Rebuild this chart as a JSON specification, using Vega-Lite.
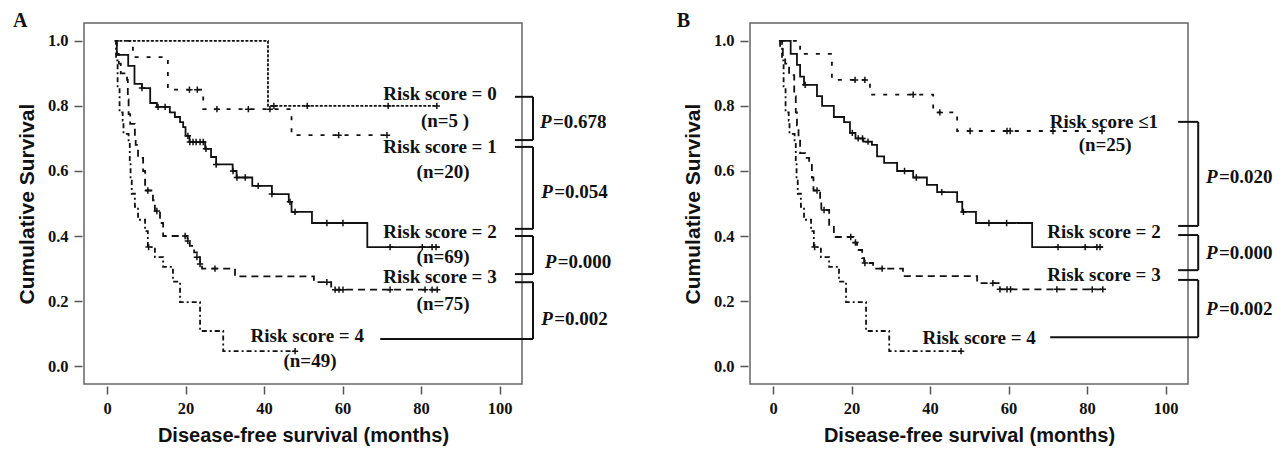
{
  "$schema": "https://vega.github.io/schema/vega-lite/v6.json",
  "background": "white",
  "padding": {"left": 12, "top": 10, "right": 5, "bottom": 5},
  "bounds": "flush",
  "spacing": 228,
  "config": {
    "view": {"stroke": "#666", "strokeWidth": 1.5},
    "axis": {
      "labelFont": "Liberation Serif", "labelFontWeight": "bold", "labelFontSize": 16.5, "labelColor": "#111",
      "titleFont": "Liberation Sans", "titleFontWeight": "bold", "titleColor": "#111",
      "tickColor": "#555", "tickWidth": 1.5, "grid": false, "domain": false
    },
    "text": {"font": "Liberation Serif", "fontWeight": "bold", "fontSize": 19, "color": "#111"}
  },
  "datasets": {
    "curvesA": [
      {"g": "0", "t": 2, "s": 1.0}, {"g": "0", "t": 41, "s": 0.8}, {"g": "0", "t": 84, "s": 0.8},
      {"g": "1", "t": 2, "s": 1.0}, {"g": "1", "t": 6.6, "s": 0.95}, {"g": "1", "t": 15.5, "s": 0.85}, {"g": "1", "t": 24.5, "s": 0.79}, {"g": "1", "t": 47, "s": 0.71}, {"g": "1", "t": 72, "s": 0.71},
      {"g": "2", "t": 2, "s": 1.0}, {"g": "2", "t": 2.5, "s": 0.957}, {"g": "2", "t": 5.4, "s": 0.923}, {"g": "2", "t": 7, "s": 0.868}, {"g": "2", "t": 8.9, "s": 0.855}, {"g": "2", "t": 11, "s": 0.809}, {"g": "2", "t": 12.7, "s": 0.797}, {"g": "2", "t": 16, "s": 0.78}, {"g": "2", "t": 17.3, "s": 0.766}, {"g": "2", "t": 18.6, "s": 0.75}, {"g": "2", "t": 19.4, "s": 0.735}, {"g": "2", "t": 20, "s": 0.708}, {"g": "2", "t": 21, "s": 0.689}, {"g": "2", "t": 25, "s": 0.668}, {"g": "2", "t": 26.5, "s": 0.643}, {"g": "2", "t": 27.8, "s": 0.62}, {"g": "2", "t": 32, "s": 0.6}, {"g": "2", "t": 33, "s": 0.58}, {"g": "2", "t": 37, "s": 0.554}, {"g": "2", "t": 42, "s": 0.529}, {"g": "2", "t": 46.3, "s": 0.505}, {"g": "2", "t": 47, "s": 0.474}, {"g": "2", "t": 52.2, "s": 0.44}, {"g": "2", "t": 66.3, "s": 0.366}, {"g": "2", "t": 84.8, "s": 0.366},
      {"g": "3", "t": 2, "s": 1.0}, {"g": "3", "t": 2.5, "s": 0.96}, {"g": "3", "t": 3, "s": 0.93}, {"g": "3", "t": 3.5, "s": 0.9}, {"g": "3", "t": 5.1, "s": 0.88}, {"g": "3", "t": 5.3, "s": 0.82}, {"g": "3", "t": 5.5, "s": 0.775}, {"g": "3", "t": 5.9, "s": 0.745}, {"g": "3", "t": 7.1, "s": 0.7}, {"g": "3", "t": 7.3, "s": 0.68}, {"g": "3", "t": 7.9, "s": 0.64}, {"g": "3", "t": 9.2, "s": 0.6}, {"g": "3", "t": 9.7, "s": 0.54}, {"g": "3", "t": 11.7, "s": 0.51}, {"g": "3", "t": 12.2, "s": 0.477}, {"g": "3", "t": 13.5, "s": 0.44}, {"g": "3", "t": 14.3, "s": 0.4}, {"g": "3", "t": 20.5, "s": 0.385}, {"g": "3", "t": 21.1, "s": 0.37}, {"g": "3", "t": 22.2, "s": 0.35}, {"g": "3", "t": 22.9, "s": 0.335}, {"g": "3", "t": 23.7, "s": 0.314}, {"g": "3", "t": 24.2, "s": 0.3}, {"g": "3", "t": 32.6, "s": 0.276}, {"g": "3", "t": 52.7, "s": 0.258}, {"g": "3", "t": 57.1, "s": 0.235}, {"g": "3", "t": 84.8, "s": 0.235},
      {"g": "4", "t": 2, "s": 1.0}, {"g": "4", "t": 2.3, "s": 0.94}, {"g": "4", "t": 2.7, "s": 0.86}, {"g": "4", "t": 3.2, "s": 0.78}, {"g": "4", "t": 4.0, "s": 0.755}, {"g": "4", "t": 4.2, "s": 0.714}, {"g": "4", "t": 5.5, "s": 0.69}, {"g": "4", "t": 5.8, "s": 0.63}, {"g": "4", "t": 6.0, "s": 0.57}, {"g": "4", "t": 6.3, "s": 0.53}, {"g": "4", "t": 7.1, "s": 0.49}, {"g": "4", "t": 7.9, "s": 0.45}, {"g": "4", "t": 9.7, "s": 0.415}, {"g": "4", "t": 10.4, "s": 0.366}, {"g": "4", "t": 12.2, "s": 0.335}, {"g": "4", "t": 14.3, "s": 0.305}, {"g": "4", "t": 16.8, "s": 0.26}, {"g": "4", "t": 18.6, "s": 0.197}, {"g": "4", "t": 23.7, "s": 0.108}, {"g": "4", "t": 29.6, "s": 0.046}, {"g": "4", "t": 47.9, "s": 0.046}
    ],
    "censA": [
      {"t": 42.5, "s": 0.8}, {"t": 51, "s": 0.8}, {"t": 71.6, "s": 0.8}, {"t": 84, "s": 0.8},
      {"t": 21, "s": 0.85}, {"t": 23, "s": 0.85}, {"t": 28, "s": 0.79}, {"t": 36, "s": 0.79}, {"t": 41.5, "s": 0.79}, {"t": 59, "s": 0.71}, {"t": 71.3, "s": 0.71},
      {"t": 8.9, "s": 0.855}, {"t": 13, "s": 0.797}, {"t": 14.8, "s": 0.797}, {"t": 20.6, "s": 0.708}, {"t": 21.1, "s": 0.689}, {"t": 21.9, "s": 0.689}, {"t": 22.7, "s": 0.689}, {"t": 23.7, "s": 0.689}, {"t": 24.5, "s": 0.689}, {"t": 25.2, "s": 0.668}, {"t": 27.8, "s": 0.62}, {"t": 32.1, "s": 0.6}, {"t": 33.1, "s": 0.58}, {"t": 35.2, "s": 0.58}, {"t": 38.5, "s": 0.554}, {"t": 42, "s": 0.529}, {"t": 46.6, "s": 0.505}, {"t": 47.9, "s": 0.474}, {"t": 56, "s": 0.44}, {"t": 60.1, "s": 0.44}, {"t": 72.1, "s": 0.366}, {"t": 80.3, "s": 0.366}, {"t": 82.8, "s": 0.366}, {"t": 83.8, "s": 0.366},
      {"t": 10.4, "s": 0.54}, {"t": 12.7, "s": 0.477}, {"t": 19.9, "s": 0.4}, {"t": 20.6, "s": 0.385}, {"t": 22.9, "s": 0.335}, {"t": 23.7, "s": 0.314}, {"t": 27.5, "s": 0.3}, {"t": 56, "s": 0.258}, {"t": 58.1, "s": 0.235}, {"t": 59.1, "s": 0.235}, {"t": 60.1, "s": 0.235}, {"t": 72.1, "s": 0.235}, {"t": 81, "s": 0.235}, {"t": 82.8, "s": 0.235}, {"t": 84.1, "s": 0.235},
      {"t": 10.6, "s": 0.366}, {"t": 47.9, "s": 0.046}
    ],
    "curvesB": [
      {"g": "1", "t": 2, "s": 1.0}, {"g": "1", "t": 6.9, "s": 0.96}, {"g": "1", "t": 15, "s": 0.88}, {"g": "1", "t": 24.7, "s": 0.835}, {"g": "1", "t": 40.8, "s": 0.78}, {"g": "1", "t": 46.9, "s": 0.723}, {"g": "1", "t": 84, "s": 0.723},
      {"g": "2", "t": 2, "s": 1.0}, {"g": "2", "t": 4.5, "s": 0.96}, {"g": "2", "t": 6.1, "s": 0.926}, {"g": "2", "t": 6.9, "s": 0.89}, {"g": "2", "t": 7.9, "s": 0.865}, {"g": "2", "t": 11.2, "s": 0.83}, {"g": "2", "t": 12.5, "s": 0.8}, {"g": "2", "t": 15.5, "s": 0.766}, {"g": "2", "t": 18.1, "s": 0.75}, {"g": "2", "t": 19.6, "s": 0.717}, {"g": "2", "t": 21, "s": 0.7}, {"g": "2", "t": 23, "s": 0.69}, {"g": "2", "t": 25.2, "s": 0.68}, {"g": "2", "t": 26.5, "s": 0.645}, {"g": "2", "t": 28.3, "s": 0.625}, {"g": "2", "t": 31.6, "s": 0.6}, {"g": "2", "t": 35.7, "s": 0.58}, {"g": "2", "t": 39.2, "s": 0.557}, {"g": "2", "t": 41.8, "s": 0.535}, {"g": "2", "t": 46.9, "s": 0.505}, {"g": "2", "t": 48.2, "s": 0.474}, {"g": "2", "t": 51.7, "s": 0.44}, {"g": "2", "t": 66, "s": 0.366}, {"g": "2", "t": 84, "s": 0.366},
      {"g": "3", "t": 1.5, "s": 1.0}, {"g": "3", "t": 1.8, "s": 0.975}, {"g": "3", "t": 2.5, "s": 0.95}, {"g": "3", "t": 3.1, "s": 0.93}, {"g": "3", "t": 4.1, "s": 0.895}, {"g": "3", "t": 5.4, "s": 0.83}, {"g": "3", "t": 5.8, "s": 0.78}, {"g": "3", "t": 6.1, "s": 0.74}, {"g": "3", "t": 6.5, "s": 0.7}, {"g": "3", "t": 6.9, "s": 0.655}, {"g": "3", "t": 8.2, "s": 0.64}, {"g": "3", "t": 9.2, "s": 0.628}, {"g": "3", "t": 9.9, "s": 0.58}, {"g": "3", "t": 10.3, "s": 0.54}, {"g": "3", "t": 12, "s": 0.51}, {"g": "3", "t": 12.3, "s": 0.48}, {"g": "3", "t": 14.3, "s": 0.434}, {"g": "3", "t": 15.5, "s": 0.397}, {"g": "3", "t": 20.5, "s": 0.38}, {"g": "3", "t": 21.4, "s": 0.357}, {"g": "3", "t": 22.7, "s": 0.332}, {"g": "3", "t": 23.2, "s": 0.317}, {"g": "3", "t": 25.5, "s": 0.3}, {"g": "3", "t": 33.1, "s": 0.277}, {"g": "3", "t": 52, "s": 0.255}, {"g": "3", "t": 57.8, "s": 0.236}, {"g": "3", "t": 84.6, "s": 0.236},
      {"g": "4", "t": 2, "s": 1.0}, {"g": "4", "t": 2.3, "s": 0.94}, {"g": "4", "t": 2.7, "s": 0.86}, {"g": "4", "t": 3.2, "s": 0.78}, {"g": "4", "t": 4.0, "s": 0.755}, {"g": "4", "t": 4.2, "s": 0.714}, {"g": "4", "t": 5.5, "s": 0.69}, {"g": "4", "t": 5.8, "s": 0.63}, {"g": "4", "t": 6.0, "s": 0.57}, {"g": "4", "t": 6.3, "s": 0.53}, {"g": "4", "t": 7.1, "s": 0.49}, {"g": "4", "t": 7.9, "s": 0.45}, {"g": "4", "t": 9.7, "s": 0.415}, {"g": "4", "t": 10.4, "s": 0.366}, {"g": "4", "t": 12.2, "s": 0.335}, {"g": "4", "t": 14.3, "s": 0.305}, {"g": "4", "t": 16.8, "s": 0.26}, {"g": "4", "t": 18.6, "s": 0.197}, {"g": "4", "t": 23.7, "s": 0.108}, {"g": "4", "t": 29.6, "s": 0.046}, {"g": "4", "t": 47.9, "s": 0.046}
    ],
    "censB": [
      {"t": 20.9, "s": 0.88}, {"t": 23.4, "s": 0.88}, {"t": 35.7, "s": 0.835}, {"t": 42.5, "s": 0.78}, {"t": 50.2, "s": 0.723}, {"t": 59.6, "s": 0.723}, {"t": 60.4, "s": 0.723}, {"t": 71.3, "s": 0.723}, {"t": 83.8, "s": 0.723},
      {"t": 8.2, "s": 0.865}, {"t": 20.2, "s": 0.717}, {"t": 21.7, "s": 0.7}, {"t": 22.8, "s": 0.7}, {"t": 24.2, "s": 0.69}, {"t": 33.5, "s": 0.6}, {"t": 36.5, "s": 0.58}, {"t": 43, "s": 0.535}, {"t": 48.5, "s": 0.474}, {"t": 55, "s": 0.44}, {"t": 59.5, "s": 0.44}, {"t": 72.6, "s": 0.366}, {"t": 79.5, "s": 0.366}, {"t": 82.5, "s": 0.366}, {"t": 83.3, "s": 0.366},
      {"t": 11.2, "s": 0.54}, {"t": 13, "s": 0.48}, {"t": 19.8, "s": 0.397}, {"t": 21, "s": 0.38}, {"t": 23.4, "s": 0.317}, {"t": 27.8, "s": 0.3}, {"t": 56, "s": 0.255}, {"t": 57.8, "s": 0.236}, {"t": 59.6, "s": 0.236}, {"t": 60.5, "s": 0.236}, {"t": 72.3, "s": 0.236}, {"t": 81.3, "s": 0.236}, {"t": 84, "s": 0.236},
      {"t": 10.6, "s": 0.366}, {"t": 47.9, "s": 0.046}
    ],
    "labelsA": [
      {"t": 84.8, "s": 0.837, "label": "Risk score = 0"}, {"t": 86.1, "s": 0.754, "label": "(n=5 )"},
      {"t": 84.8, "s": 0.674, "label": "Risk score = 1"}, {"t": 85.6, "s": 0.597, "label": "(n=20)"},
      {"t": 84.8, "s": 0.412, "label": "Risk score = 2"}, {"t": 85.6, "s": 0.335, "label": "(n=69)"},
      {"t": 84.8, "s": 0.274, "label": "Risk score = 3"}, {"t": 85.6, "s": 0.191, "label": "(n=75)"},
      {"t": 51, "s": 0.092, "label": "Risk score = 4"}, {"t": 51.7, "s": 0.015, "label": "(n=49)"}
    ],
    "labelsB": [
      {"t": 84.3, "s": 0.75, "label": "Risk score ≤1"}, {"t": 84.6, "s": 0.68, "label": "(n=25)"},
      {"t": 84.3, "s": 0.412, "label": "Risk score = 2"},
      {"t": 84.3, "s": 0.28, "label": "Risk score = 3"},
      {"t": 52.5, "s": 0.086, "label": "Risk score = 4"}
    ],
    "segA": [
      {"t": 103.9, "t2": 108.5, "s": 0.828, "s2": 0.828}, {"t": 108.5, "t2": 108.5, "s": 0.828, "s2": 0.695}, {"t": 103.9, "t2": 108.5, "s": 0.695, "s2": 0.695},
      {"t": 103.9, "t2": 108.5, "s": 0.674, "s2": 0.674}, {"t": 108.5, "t2": 108.5, "s": 0.674, "s2": 0.422}, {"t": 103.9, "t2": 108.5, "s": 0.422, "s2": 0.422},
      {"t": 103.9, "t2": 108.5, "s": 0.4, "s2": 0.4}, {"t": 108.5, "t2": 108.5, "s": 0.4, "s2": 0.283}, {"t": 103.9, "t2": 108.5, "s": 0.283, "s2": 0.283},
      {"t": 103.9, "t2": 108.5, "s": 0.258, "s2": 0.258}, {"t": 108.5, "t2": 108.5, "s": 0.258, "s2": 0.083}, {"t": 69.6, "t2": 108.5, "s": 0.083, "s2": 0.083}
    ],
    "segB": [
      {"t": 103.2, "t2": 108.3, "s": 0.751, "s2": 0.751}, {"t": 108.3, "t2": 108.3, "s": 0.751, "s2": 0.431}, {"t": 103.2, "t2": 108.3, "s": 0.431, "s2": 0.431},
      {"t": 103.2, "t2": 108.3, "s": 0.403, "s2": 0.403}, {"t": 108.3, "t2": 108.3, "s": 0.403, "s2": 0.295}, {"t": 103.2, "t2": 108.3, "s": 0.295, "s2": 0.295},
      {"t": 103.2, "t2": 108.3, "s": 0.265, "s2": 0.265}, {"t": 108.3, "t2": 108.3, "s": 0.265, "s2": 0.089}, {"t": 70.6, "t2": 108.3, "s": 0.089, "s2": 0.089}
    ],
    "pA": [
      {"t": 110.3, "t2": 113.6, "s": 0.751, "v": "=0.678"},
      {"t": 110.6, "t2": 113.9, "s": 0.535, "v": "=0.054"},
      {"t": 111.5, "t2": 114.8, "s": 0.32, "v": "=0.000"},
      {"t": 110.6, "t2": 113.9, "s": 0.145, "v": "=0.002"}
    ],
    "pB": [
      {"t": 110.3, "t2": 113.6, "s": 0.582, "v": "=0.020"},
      {"t": 110.3, "t2": 113.6, "s": 0.348, "v": "=0.000"},
      {"t": 110.3, "t2": 113.6, "s": 0.175, "v": "=0.002"}
    ],
    "letterA": [{"t": -23.95, "s": 1.043, "label": "A"}],
    "letterB": [{"t": -24.5, "s": 1.043, "label": "B"}]
  },
  "hconcat": [
    {
      "width": 438, "height": 361,
      "layer": [
        {
          "data": {"name": "curvesA"},
          "mark": {"type": "line", "interpolate": "step-after", "color": "#111", "strokeWidth": 1.8},
          "encoding": {
            "x": {"field": "t", "type": "quantitative", "scale": {"domain": [-5.86, 105.7], "nice": false, "zero": false},
                  "axis": {"values": [0, 20, 40, 60, 80, 100], "title": "Disease-free survival (months)", "titleFontSize": 20, "offset": 2, "tickSize": 8, "labelPadding": 6, "titlePadding": 9}},
            "y": {"field": "s", "type": "quantitative", "scale": {"domain": [-0.055, 1.055], "nice": false, "zero": false},
                  "axis": {"values": [0, 0.2, 0.4, 0.6, 0.8, 1.0], "format": ".1f", "title": "Cumulative Survival", "titleFontSize": 21, "offset": 2, "tickSize": 8, "labelPadding": 6, "titlePadding": 10}},
            "detail": {"field": "g"},
            "strokeDash": {"field": "g", "type": "nominal", "scale": {"domain": ["0", "1", "2", "3", "4"], "range": [[3, 1.5], [4, 8], [1, 0], [7, 5], [5, 3, 2, 3]]}, "legend": null}
          }
        },
        {
          "data": {"name": "censA"},
          "mark": {"type": "point", "shape": "M-1,0L1,0M0,-1L0,1", "filled": false, "stroke": "#111", "strokeWidth": 1.5, "size": 40, "opacity": 1},
          "encoding": {"x": {"field": "t", "type": "quantitative"}, "y": {"field": "s", "type": "quantitative"}}
        },
        {
          "data": {"name": "segA"},
          "mark": {"type": "rule", "color": "#111", "strokeWidth": 2},
          "encoding": {"x": {"field": "t", "type": "quantitative"}, "x2": {"field": "t2"}, "y": {"field": "s", "type": "quantitative"}, "y2": {"field": "s2"}}
        },
        {
          "data": {"name": "labelsA"},
          "mark": {"type": "text", "align": "center", "baseline": "middle"},
          "encoding": {"x": {"field": "t", "type": "quantitative"}, "y": {"field": "s", "type": "quantitative"}, "text": {"field": "label"}}
        },
        {
          "data": {"name": "pA"},
          "mark": {"type": "text", "align": "left", "baseline": "middle", "fontStyle": "italic"},
          "encoding": {"x": {"field": "t", "type": "quantitative"}, "y": {"field": "s", "type": "quantitative"}, "text": {"value": "P"}}
        },
        {
          "data": {"name": "pA"},
          "mark": {"type": "text", "align": "left", "baseline": "middle"},
          "encoding": {"x": {"field": "t2", "type": "quantitative"}, "y": {"field": "s", "type": "quantitative"}, "text": {"field": "v"}}
        },
        {
          "data": {"name": "letterA"},
          "mark": {"type": "text", "align": "left", "baseline": "alphabetic", "fontSize": 20},
          "encoding": {"x": {"field": "t", "type": "quantitative"}, "y": {"field": "s", "type": "quantitative"}, "text": {"field": "label"}}
        }
      ]
    },
    {
      "width": 438, "height": 361,
      "layer": [
        {
          "data": {"name": "curvesB"},
          "mark": {"type": "line", "interpolate": "step-after", "color": "#111", "strokeWidth": 1.8},
          "encoding": {
            "x": {"field": "t", "type": "quantitative", "scale": {"domain": [-5.86, 105.7], "nice": false, "zero": false},
                  "axis": {"values": [0, 20, 40, 60, 80, 100], "title": "Disease-free survival (months)", "titleFontSize": 20, "offset": 2, "tickSize": 8, "labelPadding": 6, "titlePadding": 9}},
            "y": {"field": "s", "type": "quantitative", "scale": {"domain": [-0.055, 1.055], "nice": false, "zero": false},
                  "axis": {"values": [0, 0.2, 0.4, 0.6, 0.8, 1.0], "format": ".1f", "title": "Cumulative Survival", "titleFontSize": 21, "offset": 2, "tickSize": 8, "labelPadding": 6, "titlePadding": 10}},
            "detail": {"field": "g"},
            "strokeDash": {"field": "g", "type": "nominal", "scale": {"domain": ["1", "2", "3", "4"], "range": [[3, 1.5], [3, 5], [1, 0], [5, 3, 2, 3]]}, "legend": null}
          }
        },
        {
          "data": {"name": "censB"},
          "mark": {"type": "point", "shape": "M-1,0L1,0M0,-1L0,1", "filled": false, "stroke": "#111", "strokeWidth": 1.5, "size": 40, "opacity": 1},
          "encoding": {"x": {"field": "t", "type": "quantitative"}, "y": {"field": "s", "type": "quantitative"}}
        },
        {
          "data": {"name": "segB"},
          "mark": {"type": "rule", "color": "#111", "strokeWidth": 2},
          "encoding": {"x": {"field": "t", "type": "quantitative"}, "x2": {"field": "t2"}, "y": {"field": "s", "type": "quantitative"}, "y2": {"field": "s2"}}
        },
        {
          "data": {"name": "labelsB"},
          "mark": {"type": "text", "align": "center", "baseline": "middle"},
          "encoding": {"x": {"field": "t", "type": "quantitative"}, "y": {"field": "s", "type": "quantitative"}, "text": {"field": "label"}}
        },
        {
          "data": {"name": "pB"},
          "mark": {"type": "text", "align": "left", "baseline": "middle", "fontStyle": "italic"},
          "encoding": {"x": {"field": "t", "type": "quantitative"}, "y": {"field": "s", "type": "quantitative"}, "text": {"value": "P"}}
        },
        {
          "data": {"name": "pB"},
          "mark": {"type": "text", "align": "left", "baseline": "middle"},
          "encoding": {"x": {"field": "t2", "type": "quantitative"}, "y": {"field": "s", "type": "quantitative"}, "text": {"field": "v"}}
        },
        {
          "data": {"name": "letterB"},
          "mark": {"type": "text", "align": "left", "baseline": "alphabetic", "fontSize": 20},
          "encoding": {"x": {"field": "t", "type": "quantitative"}, "y": {"field": "s", "type": "quantitative"}, "text": {"field": "label"}}
        }
      ]
    }
  ]
}
